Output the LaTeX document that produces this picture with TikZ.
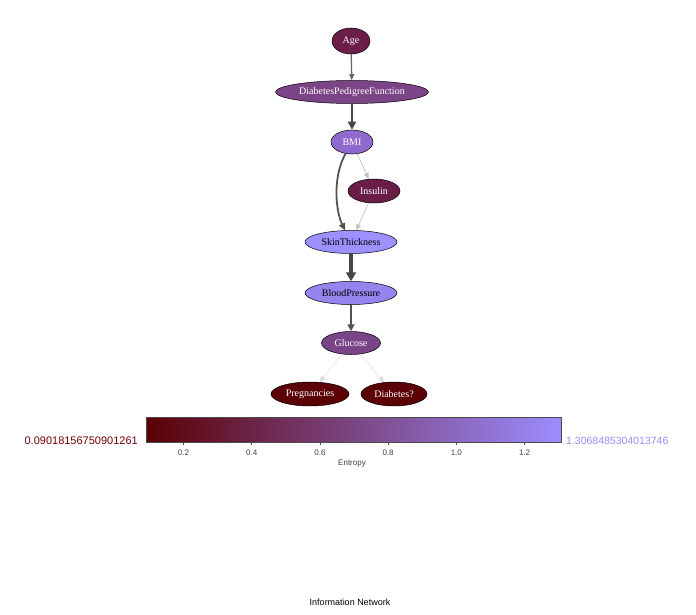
\documentclass[tikz,border=0pt]{standalone}
\usepackage{fontspec}
\setmainfont{Liberation Serif}
\setsansfont{Liberation Sans}
\usetikzlibrary{shapes.geometric,arrows.meta}
\definecolor{cAge}{HTML}{6A1E48}
\definecolor{cDPF}{HTML}{7B4486}
\definecolor{cBMI}{HTML}{8F6ACC}
\definecolor{cIns}{HTML}{6A1D46}
\definecolor{cSkin}{HTML}{9D90FF}
\definecolor{cBP}{HTML}{9683EE}
\definecolor{cGlu}{HTML}{7A4588}
\definecolor{cLow}{HTML}{5B0005}
\definecolor{cHigh}{HTML}{9B8CFF}
\begin{document}
\begin{tikzpicture}[x=1pt, y=-1pt, >={Triangle[length=6pt,width=5pt]}]
\tikzstyle{var}=[ellipse,draw=black,line width=0.5pt,inner sep=0pt,font=\fontsize{10}{11}\selectfont,text=white,minimum height=23pt]
\tikzstyle{lien}=[->,line width=0.6pt,draw=black!25]
\useasboundingbox (0,0) rectangle (696,615);
% graph
\node[var,fill=cAge,minimum width=38pt,minimum height=26pt](age) at (351,41) {Age};
\node[var,fill=cDPF,minimum width=153pt](dpf) at (352,92) {DiabetesPedigreeFunction};
\node[var,fill=cBMI,minimum width=42pt,minimum height=24pt](bmi) at (352,142) {BMI};
\node[var,fill=cIns,minimum width=52pt,minimum height=24pt](ins) at (374,191) {Insulin};
\node[var,fill=cSkin,text=black,minimum width=92pt](skin) at (351,242) {SkinThickness};
\node[var,fill=cBP,text=black,minimum width=92pt](bp) at (351,293) {BloodPressure};
\node[var,fill=cGlu,minimum width=59pt](glu) at (351,343) {Glucose};
\node[var,fill=cLow,minimum width=78pt,minimum height=24pt](preg) at (310,394) {Pregnancies};
\node[var,fill=cLow,minimum width=66pt,minimum height=24pt](diab) at (394,394) {Diabetes?};
\draw[lien,line width=1.3pt,draw=black!60] (age) -- (dpf);
\draw[lien,line width=2.5pt,draw=black!72,>={Triangle[length=8pt,width=8pt]}] (dpf) -- (bmi);
\draw[lien,line width=1.8pt,draw=black!68,>={Triangle[length=7pt,width=6.5pt]}] (bmi) .. controls (332,178) and (336,212) .. (skin);
\draw[lien] (bmi) -- (ins);
\draw[lien] (ins) -- (skin);
\draw[lien,line width=3.5pt,draw=black!72,>={Triangle[length=9pt,width=10pt]}] (skin) -- (bp);
\draw[lien,line width=2pt,draw=black!68,>={Triangle[length=7pt,width=7pt]}] (bp) -- (glu);
\draw[lien,line width=0.4pt,draw=black!15] (glu) -- (preg);
\draw[lien,line width=0.4pt,draw=black!15] (glu) -- (diab);
% colour bar
\shade[left color=cLow,right color=cHigh] (146,417) rectangle (561,442);
\node[draw=black!70,line width=0.6pt,minimum width=415pt,minimum height=25pt,inner sep=0pt](bar) at (353.5,429.5) {};
\foreach \v/\t in {0.2/0.2,0.4/0.4,0.6/0.6,0.8/0.8,1.0/1.0,1.2/1.2}{
  \draw[black!70,line width=0.5pt] (146+341.1*\v-30.76,442) -- +(0,3);
  \node[font=\sffamily\fontsize{8}{9}\selectfont,text=black!75,inner sep=0pt](tick\t) at (146+341.1*\v-30.76,453) {\t};
}
\node[font=\sffamily\fontsize{8}{9}\selectfont,text=black!75,inner sep=0pt](ent) at (352,464) {Entropy};
\node[font=\sffamily\fontsize{11}{12}\selectfont,text=cLow!85!red,anchor=east,inner sep=0pt](vmin) at (138,441) {0.09018156750901261};
\node[font=\sffamily\fontsize{10.5}{12}\selectfont,text=cHigh,anchor=west,inner sep=0pt](vmax) at (566,441) {1.3068485304013746};
\node[font=\sffamily\fontsize{9}{10}\selectfont,inner sep=0pt](titre) at (350,602) {Information Network};
\end{tikzpicture}
\end{document}
